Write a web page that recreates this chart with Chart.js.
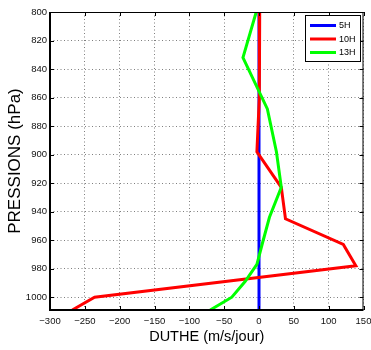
<!DOCTYPE html>
<html>
<head>
<meta charset="utf-8">
<script src="https://cdn.jsdelivr.net/npm/chart.js"></script>
<style>
  html, body { margin: 0; padding: 0; background: #fff; }
  #wrap { width: 371px; height: 350px; }
</style>
</head>
<body>
<div id="wrap"><canvas id="myChart" width="371" height="350"></canvas></div>
<script>
// values: pressure (hPa) and DUTHE (m/s/jour)
const seriesNames = ['5H', '10H', '13H'];
const seriesColors = ['#0000ff', '#ff0000', '#00ff00'];

const pres5H = [800, 1009];
const duthe5H = [0, 0];

const pres10H = [800, 860, 898, 923, 945, 963, 978, 1000, 1009];
const duthe10H = [1, 0.5, -3, 32, 38, 121, 139, -236, -268];

const pres13H = [800, 832, 868, 898, 923, 944, 962, 977, 989, 1000, 1009];
const duthe13H = [-4, -23, 12, 25, 32, 15, 5, -3, -20, -39, -70];

const xMin = -300, xMax = 150, xStep = 50;
const yMin = 800, yMax = 1009, yStep = 20;

const FONT = 'Liberation Sans';

function toPoints(xs, ys) {
   const pts = [];
   for (let i = 0; i < xs.length; i++) pts.push({ x: xs[i], y: ys[i] });
   return pts;
}

const allPres = [pres5H, pres10H, pres13H];
const allDuthe = [duthe5H, duthe10H, duthe13H];

const datasets = seriesNames.map((name, i) => ({
   label: name,
   data: toPoints(allDuthe[i], allPres[i]),
   borderColor: seriesColors[i],
   backgroundColor: seriesColors[i],
   borderWidth: 3,
   showLine: true,
   pointRadius: 0,
   tension: 0,
   order: seriesNames.length - i   // later series drawn on top, like matlab
}));

// matlab-like box, inward ticks and boxed legend
const matlabFrame = {
   id: 'matlabFrame',
   afterDatasetsDraw(chart) {
      const ctx = chart.ctx;
      const a = chart.chartArea;
      const xs = chart.scales.x, ys = chart.scales.y;
      ctx.save();
      ctx.strokeStyle = '#000';
      // thin top/right
      ctx.lineWidth = 1;
      ctx.beginPath();
      ctx.moveTo(a.left, a.top + 0.5); ctx.lineTo(a.right, a.top + 0.5);
      ctx.moveTo(a.right - 0.5, a.top); ctx.lineTo(a.right - 0.5, a.bottom);
      ctx.stroke();
      // inward ticks
      ctx.beginPath();
      xs.ticks.forEach(t => {
         const px = Math.round(xs.getPixelForValue(t.value)) + 0.5;
         ctx.moveTo(px, a.bottom); ctx.lineTo(px, a.bottom - 4);
         ctx.moveTo(px, a.top); ctx.lineTo(px, a.top + 4);
      });
      ys.ticks.forEach(t => {
         const py = Math.round(ys.getPixelForValue(t.value)) + 0.5;
         ctx.moveTo(a.left, py); ctx.lineTo(a.left + 4, py);
         ctx.moveTo(a.right, py); ctx.lineTo(a.right - 4, py);
      });
      ctx.stroke();
      // thicker left/bottom
      ctx.lineWidth = 2;
      ctx.beginPath();
      ctx.moveTo(a.left, a.top); ctx.lineTo(a.left, a.bottom);
      ctx.lineTo(a.right, a.bottom);
      ctx.stroke();

      // legend, anchored to the top right corner of the axes
      const bw = 55, bh = 46;
      const bx = Math.round(a.right) - 3.5 - bw, by = Math.round(a.top) + 3.5;
      ctx.fillStyle = '#fff';
      ctx.fillRect(bx, by, bw, bh);
      ctx.lineWidth = 1;
      ctx.strokeRect(bx, by, bw, bh);
      ctx.font = '9px "' + FONT + '"';
      ctx.textBaseline = 'middle';
      ctx.textAlign = 'left';
      chart.data.datasets.forEach((ds, i) => {
         const ly = by + 10 + i * 13.5;
         ctx.strokeStyle = ds.borderColor;
         ctx.lineWidth = 3;
         ctx.beginPath();
         ctx.moveTo(bx + 4.5, ly); ctx.lineTo(bx + 30.5, ly);
         ctx.stroke();
         ctx.fillStyle = '#000';
         ctx.fillText(ds.label, bx + 33.5, ly + 0.5);
      });
      ctx.restore();
   }
};

new Chart(document.getElementById('myChart'), {
   type: 'scatter',
   data: { datasets: datasets },
   plugins: [matlabFrame],
   options: {
      responsive: false,
      animation: false,
      devicePixelRatio: 1,
      layout: { padding: { left: 0, right: 0, top: 12, bottom: 0 } },
      plugins: {
         legend: { display: false },
         tooltip: { enabled: false }
      },
      scales: {
         x: {
            type: 'linear',
            min: xMin,
            max: xMax,
            afterFit: s => { s.height = 40; s.paddingLeft = 0; s.paddingRight = 7.5; },
            ticks: {
               stepSize: xStep,
               autoSkip: false,
               maxRotation: 0,
               padding: 6,
               color: '#111',
               font: { family: FONT, size: 9.5 },
               callback: v => String(v).replace('-', '\u2212')
            },
            grid: { drawTicks: false, color: 'rgba(0,0,0,0.5)', lineWidth: 1 },
            border: { display: false, dash: [1, 2.5] },
            title: {
               display: true,
               text: 'DUTHE (m/s/jour)',
               color: '#000',
               font: { family: FONT, size: 14.5 },
               padding: { top: 0, bottom: 4 }
            }
         },
         y: {
            type: 'linear',
            reverse: true,
            min: yMin,
            max: yMax,
            afterFit: s => { s.width = 50; },
            afterBuildTicks: s => { s.ticks = s.ticks.filter(t => t.value % yStep === 0); },
            ticks: {
               stepSize: yStep,
               autoSkip: false,
               padding: 3,
               color: '#111',
               font: { family: FONT, size: 9.5 },
               callback: v => String(v)
            },
            grid: { drawTicks: false, color: 'rgba(0,0,0,0.5)', lineWidth: 1 },
            border: { display: false, dash: [1, 2.5] },
            title: {
               display: true,
               text: 'PRESSIONS (hPa)',
               color: '#000',
               font: { family: FONT, size: 17 },
               padding: { top: 5, bottom: 0 }
            }
         }
      }
   }
});
</script>
</body>
</html>
